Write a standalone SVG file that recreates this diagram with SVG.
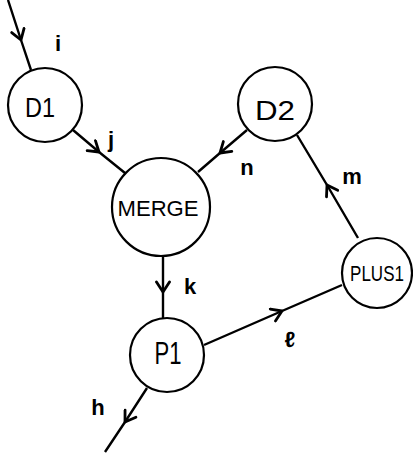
<svg xmlns="http://www.w3.org/2000/svg" width="413" height="454" viewBox="0 0 413 454">
<style>
.node circle{fill:#fff;stroke:#000;stroke-width:2.2}
.node text{font-family:"Liberation Sans",Arial,sans-serif;fill:#000;text-anchor:middle;dominant-baseline:central}
.edge{fill:none;stroke:#000;stroke-width:2.4;marker-mid:url(#chev)}
.lbl{font-family:"Liberation Sans",Arial,sans-serif;font-size:22px;font-weight:bold;fill:#000;text-anchor:middle;dominant-baseline:central}
</style>
<defs>
<marker id="chev" viewBox="-12 -8 14 16" markerWidth="14" markerHeight="16" refX="0" refY="0" orient="auto" markerUnits="userSpaceOnUse">
<path d="M -10 -6.5 L 0 0 L -10 6.5" fill="none" stroke="#000" stroke-width="2.8" stroke-linecap="round" stroke-linejoin="round"/>
</marker>
</defs>
<g id="connectors">
<path class="edge" d="M 8 0 L 21 40 L 31 70"/>
<path class="edge" d="M 73 130 L 99 152 L 125 173"/>
<path class="edge" d="M 247 130 L 220 153 L 198 172"/>
<path class="edge" d="M 358 238 L 327 185 L 297 135"/>
<path class="edge" d="M 163 256 L 163 292 L 163 318"/>
<path class="edge" d="M 204 345 L 282 311 L 342 285"/>
<path class="edge" d="M 147 388 L 125 422 L 105 452"/>
</g>
<g id="labels">
<text class="lbl" x="58" y="43">i</text>
<text class="lbl" x="111" y="139">j</text>
<text class="lbl" x="247" y="167">n</text>
<text class="lbl" x="352" y="176">m</text>
<text class="lbl" x="190" y="286">k</text>
<text class="lbl" x="290" y="339">ℓ</text>
<text class="lbl" x="98" y="407">h</text>
</g>
<g id="D1" class="node"><circle cx="45" cy="105" r="37"/><text x="40" y="107" font-size="28" textLength="30" lengthAdjust="spacingAndGlyphs">D1</text></g>
<g id="D2" class="node"><circle cx="275" cy="104" r="37"/><text x="275" y="110" font-size="28" textLength="40" lengthAdjust="spacingAndGlyphs">D2</text></g>
<g id="MERGE" class="node"><circle cx="161" cy="207" r="49"/><text x="158" y="208" font-size="22" textLength="81" lengthAdjust="spacingAndGlyphs">MERGE</text></g>
<g id="P1" class="node"><circle cx="167" cy="355" r="37"/><text x="168" y="353" font-size="32" textLength="27" lengthAdjust="spacingAndGlyphs">P1</text></g>
<g id="PLUS1" class="node"><circle cx="377" cy="273" r="35"/><text transform="translate(377 273) scale(1 1.35)" x="0" y="0" font-size="17">PLUS1</text></g>
</svg>
